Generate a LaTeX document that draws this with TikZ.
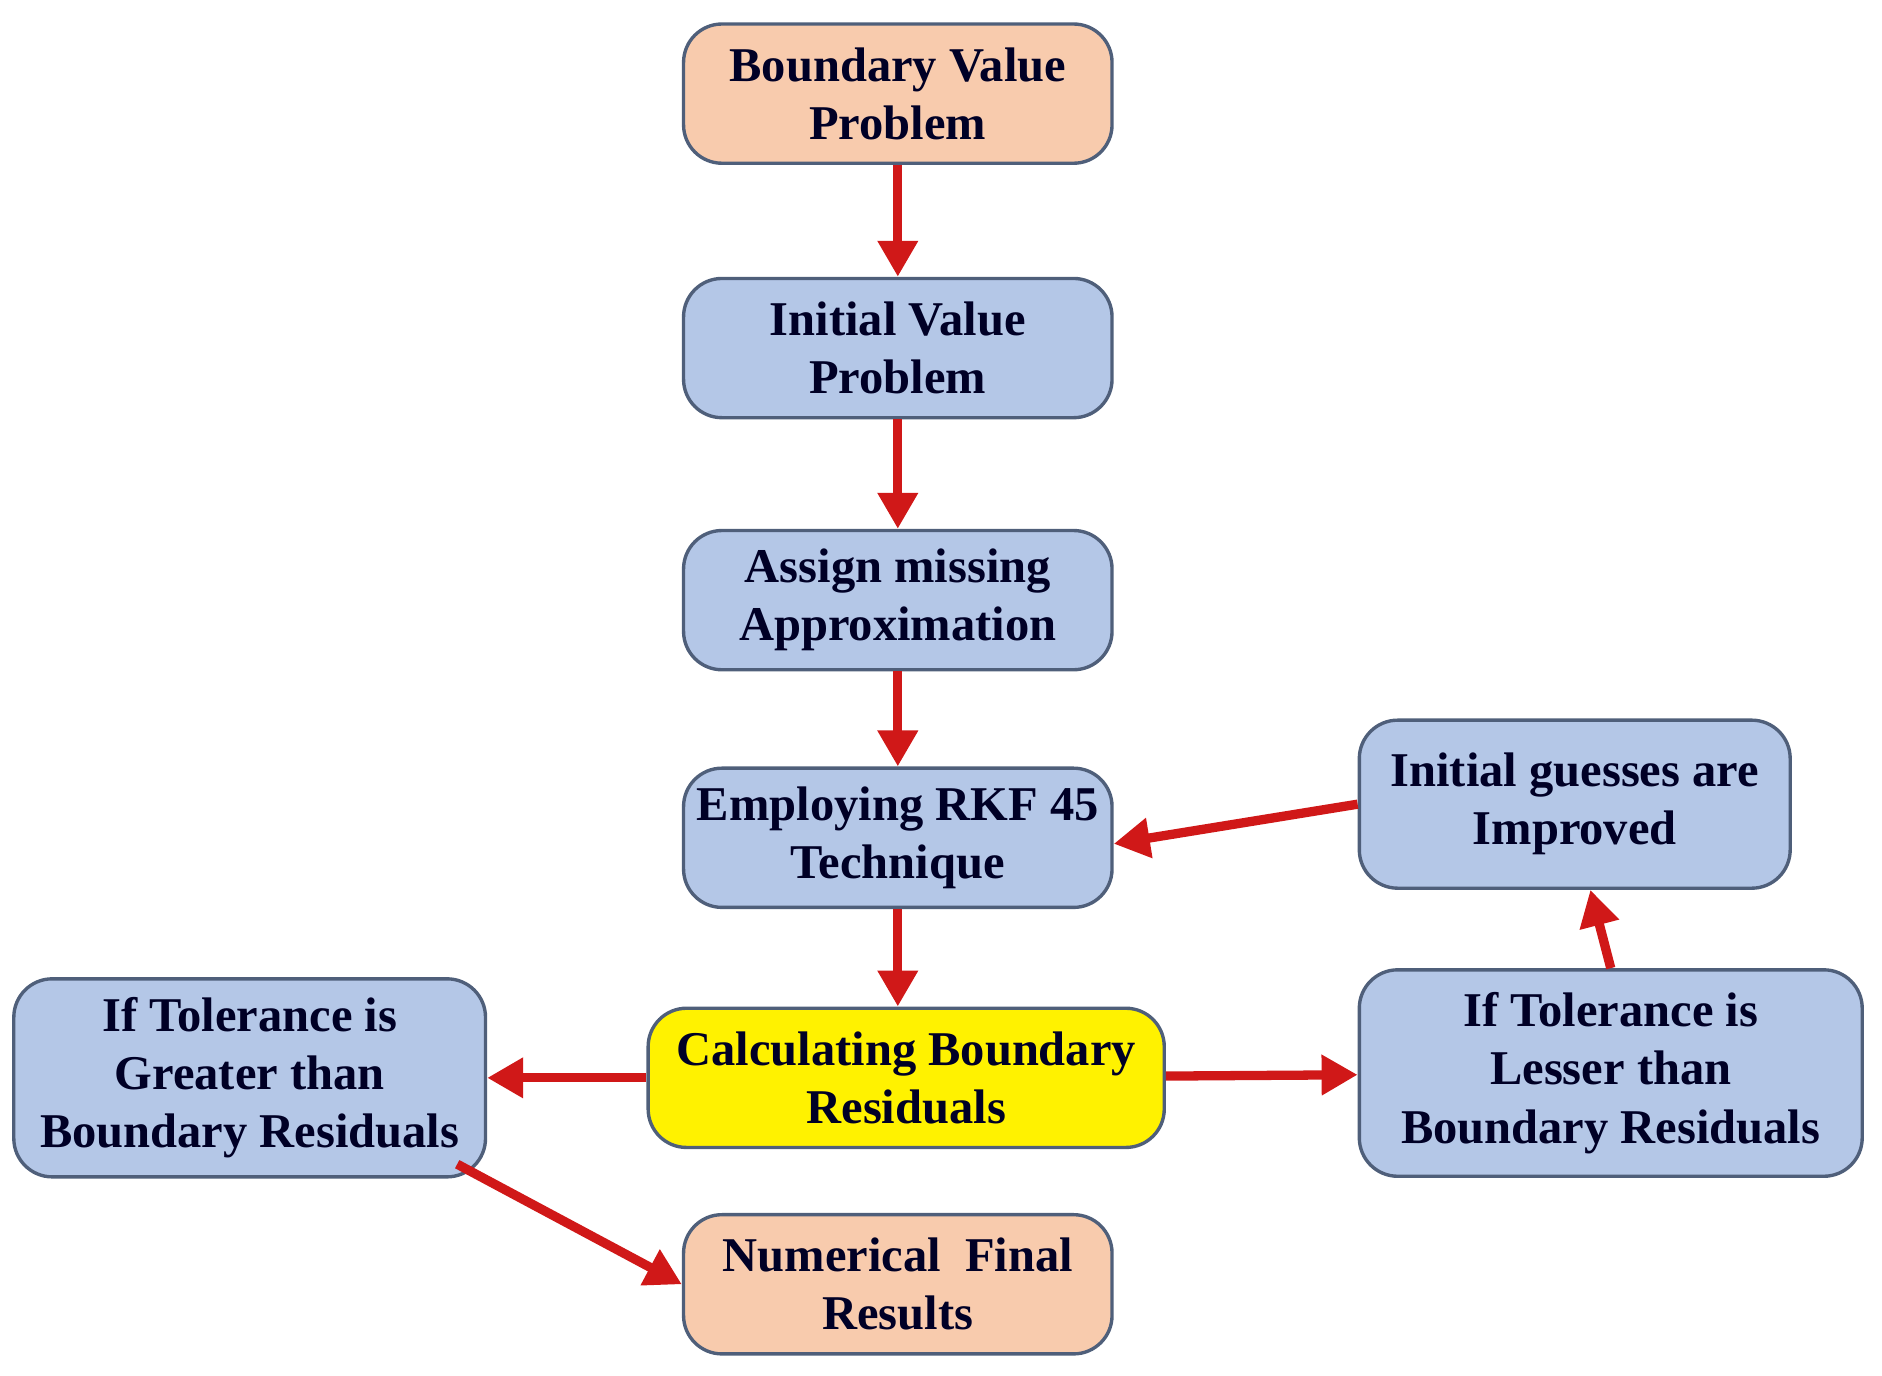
\documentclass[tikz,border=0pt]{standalone}
\usepackage{fontspec}
\setmainfont{Liberation Serif}
\usetikzlibrary{arrows.meta}
\definecolor{peach}{HTML}{F8CBAD}
\definecolor{lblue}{HTML}{B4C7E7}
\definecolor{edge}{HTML}{4F5F7A}
\definecolor{arr}{HTML}{D01818}
\tikzset{
    box/.style = {draw = edge, line width = 0.8pt, rounded corners = 0.32cm, align = center,
        font = \fontsize{11.5}{13.8}\selectfont\bfseries, text = black!85!blue, inner sep = 0pt},
    flow/.style = {draw = arr, line width = 2.2pt, -{Triangle[length = 0.3cm, width = 0.32cm]}}
}
\begin{document}
\begin{tikzpicture}
    \useasboundingbox (0,0) rectangle (15.68,-11.46);
    \def \w {3.57} % ширина основных блоков
    \def \h {1.16} % высота основных блоков
    % Центральная колонка
    \node [box, fill = peach, minimum width = \w cm, minimum height = \h cm] (bvp) at (7.48,-0.78) {Boundary Value\\Problem};
    \node [box, fill = lblue, minimum width = \w cm, minimum height = \h cm] (ivp) at (7.48,-2.90) {Initial Value\\Problem};
    \node [box, fill = lblue, minimum width = \w cm, minimum height = \h cm] (assign) at (7.48,-5.00) {Assign missing\\Approximation};
    \node [box, fill = lblue, minimum width = \w cm, minimum height = \h cm] (rkf) at (7.48,-6.98) {Employing RKF 45\\Technique};
    \node [box, fill = yellow, minimum width = 4.30cm, minimum height = \h cm] (calc) at (7.55,-8.98) {Calculating Boundary\\Residuals};
    \node [box, fill = peach, minimum width = \w cm, minimum height = \h cm] (final) at (7.48,-10.70) {Numerical~~Final\\Results};
    % Боковые блоки
    \node [box, fill = lblue, minimum width = 3.93cm, minimum height = 1.65cm] (greater) at (2.08,-8.98) {If Tolerance is\\Greater than\\Boundary Residuals};
    \node [box, fill = lblue, minimum width = 4.19cm, minimum height = 1.72cm] (lesser) at (13.42,-8.94) {If Tolerance is\\Lesser than\\Boundary Residuals};
    \node [box, fill = lblue, minimum width = 3.59cm, minimum height = 1.40cm] (improved) at (13.12,-6.70) {Initial guesses are\\Improved};
    % Стрелки
    \foreach \a/\b in {bvp/ivp, ivp/assign, assign/rkf} {
        \draw [flow] (\a) -- (\b);
    }
    \draw [flow] (rkf.south) -- (rkf.south |- calc.north);
    \draw [flow] (calc) -- (greater);
    \draw [flow] (calc) -- (lesser);
    \draw [flow] (lesser.north) -- ([xshift = 0.13cm]improved.south);
    \draw [flow] (improved.west) -- ([yshift = -0.05cm]rkf.east);
    \draw [flow] ([xshift = -0.25cm, yshift = 0.12cm]greater.south east) -- (final.west);
\end{tikzpicture}
\end{document}
